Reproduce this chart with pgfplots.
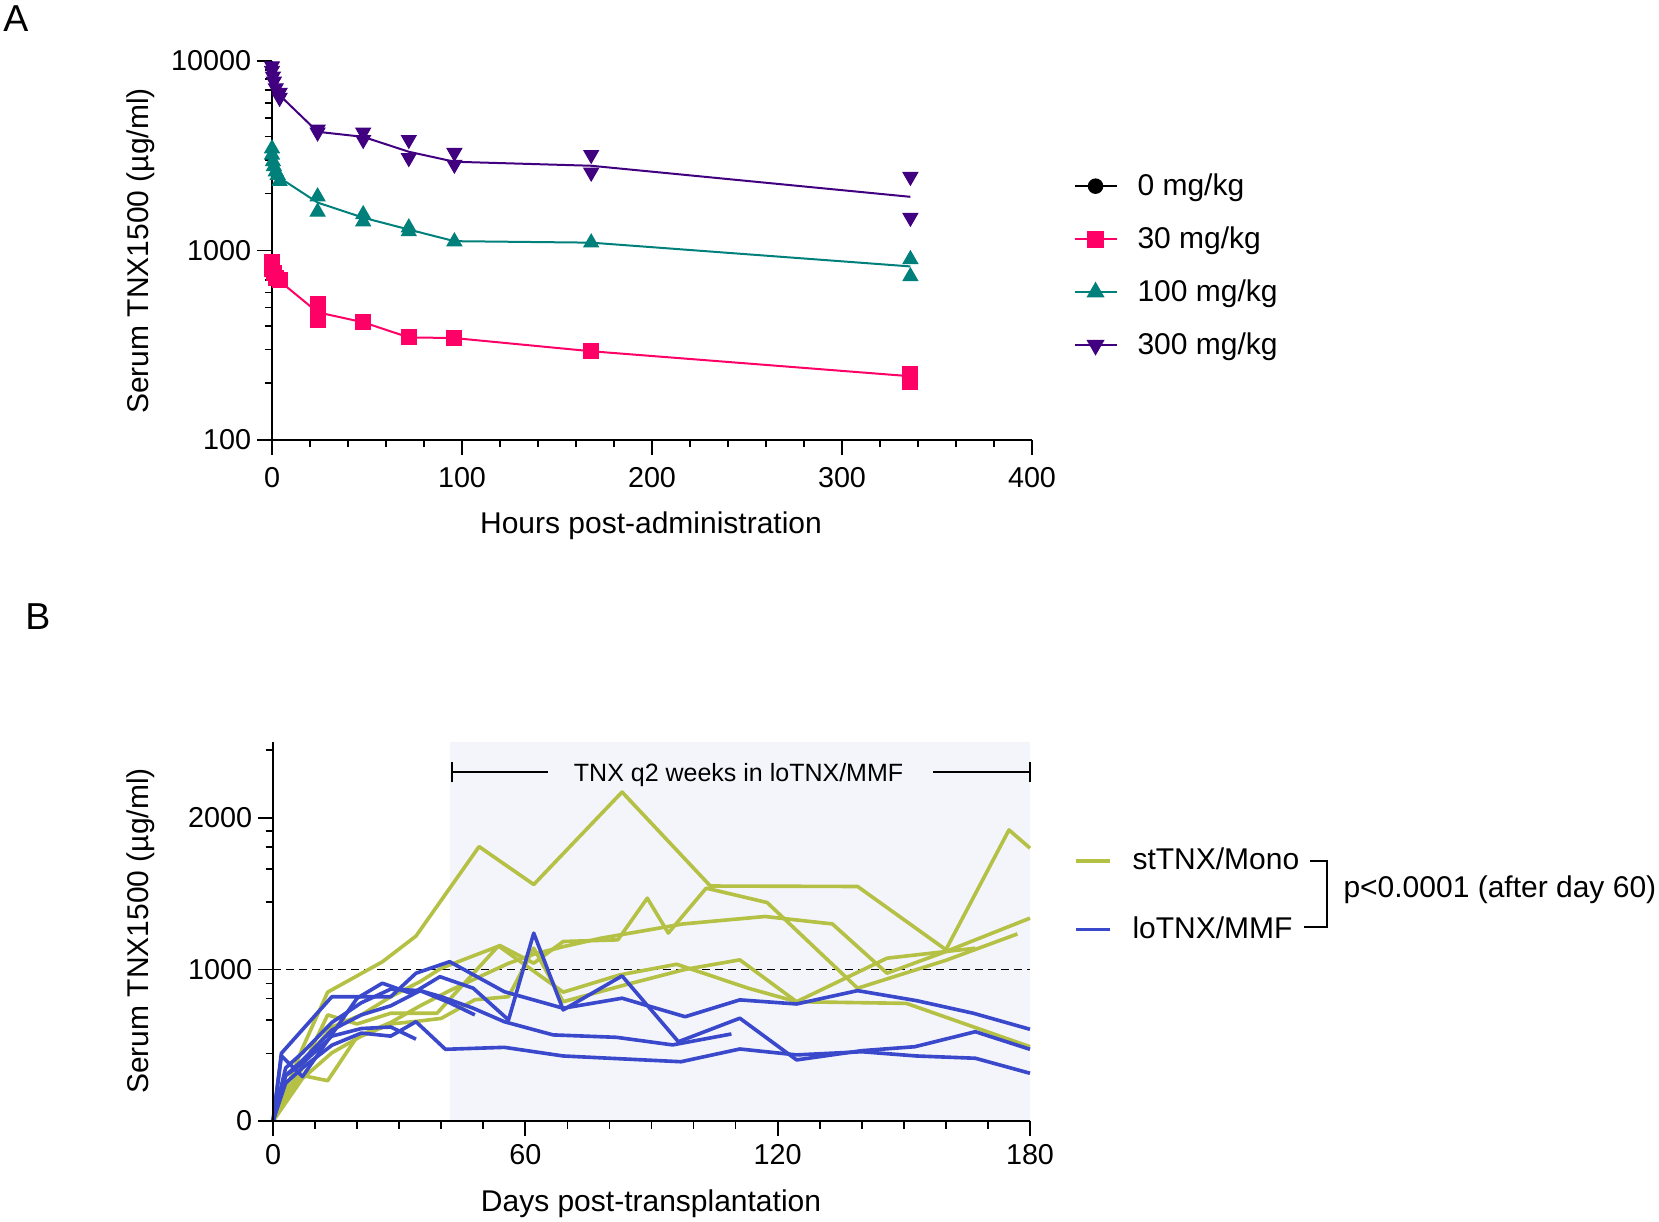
\documentclass[border=0pt]{standalone}
\usepackage{fontspec}
\setmainfont{Liberation Sans}
\usepackage{pgfplots}
\pgfplotsset{compat=1.18}

\definecolor{pinkA}{RGB}{255,0,102}
\definecolor{tealA}{RGB}{0,128,122}
\definecolor{purpA}{RGB}{64,0,128}
\definecolor{greenB}{RGB}{180,193,68}
\definecolor{blueB}{RGB}{58,72,204}
\definecolor{shadeB}{RGB}{244,245,251}

\pgfplotsset{
 gp/.style={
  scale only axis,
  axis on top,
  axis x line*=bottom, axis y line*=left,
  axis line style={line width=0.7pt, -},
  tick align=outside,
  major tick length=6pt, minor tick length=3pt,
  every tick/.style={line width=0.7pt, black},
  tick label style={font=\fontsize{11.5}{13}\selectfont},
  yticklabel style={xshift=1.2pt},
  clip=false,
 },
 gl/.style={line width=1.45pt, line join=round},
}

\begin{document}
\begin{tikzpicture}
\useasboundingbox (0,0) rectangle (663.6pt,488.4pt);

% ---------------- Panel A ----------------
\begin{axis}[gp, at={(108.8pt,312.4pt)}, anchor=south west,
  width=304pt, height=151.6pt,
  xmin=0, xmax=400, ymode=log, ymin=100, ymax=10000,
  xtick={0,100,200,300,400}, xticklabels={0,100,200,300,400},
  xticklabel style={yshift=-1.5pt},
  minor x tick num=4,
  ytick={100,1000,10000}, yticklabels={100,1000,10000},
  legend cell align=left,
  legend image code/.code={\draw[#1, mark repeat=2, mark phase=2] plot coordinates {(0pt,0pt)(8.4pt,0pt)(16.8pt,0pt)};},
  legend style={at={(1.054,0.46)}, anchor=west, draw=none, fill=none,
    inner sep=0pt, font=\fontsize{12}{14}\selectfont, row sep=7pt, column sep=6pt},
]
\addlegendimage{black, line width=0.8pt, mark=*, mark size=2.7pt}
\addlegendentry{0 mg/kg}
\addlegendimage{pinkA, line width=0.8pt, mark=square*, mark size=3pt}
\addlegendentry{30 mg/kg}
\addlegendimage{tealA, line width=0.8pt, mark=triangle*, mark size=3.4pt}
\addlegendentry{100 mg/kg}
\addlegendimage{purpA, line width=0.8pt, mark=triangle*, mark size=3.4pt, mark options={rotate=180}}
\addlegendentry{300 mg/kg}

% mean lines
\addplot[forget plot, pinkA, line width=0.8pt] coordinates {(0,800)(2,740)(4,690)(24,472)(48,418)(72,348)(96,345)(168,294)(336,217)};
\addplot[forget plot, tealA, line width=0.8pt] coordinates {(0,3000)(1,2780)(2,2600)(4,2420)(24,1790)(48,1490)(72,1290)(96,1120)(168,1100)(336,824)};
\addplot[forget plot, purpA, line width=0.8pt] coordinates {(0,8700)(1,7800)(2,7200)(4,6600)(24,4230)(48,3980)(72,3320)(96,2940)(168,2800)(336,1920)};
% individual values
\addplot[forget plot, only marks, mark=square*, mark size=3pt, pinkA] coordinates {
 (0,870)(0,800)(1,760)(2,720)(4,700)
 (24,520)(24,430)(48,418)(72,348)(96,345)(168,294)(336,223)(336,203)};
\addplot[forget plot, only marks, mark=triangle*, mark size=3.4pt, tealA] coordinates {
 (0,3450)(0,3200)(0.5,2950)(1,2780)(2,2610)(3,2500)(4,2320)
 (24,1925)(24,1600)(48,1550)(48,1420)(72,1320)(72,1260)(96,1115)(168,1100)(336,898)(336,730)};
\addplot[forget plot, only marks, mark=triangle*, mark size=3.4pt, purpA, mark options={rotate=180}] coordinates {
 (0,9400)(0,8900)(0.5,8300)(1,7800)(2,7200)(4,6800)(4,6400)
 (24,4350)(24,4200)(48,4200)(48,3840)(72,3840)(72,3080)(96,3280)(96,2840)(168,3200)(168,2580)(336,2450)(336,1490)};
\end{axis}

% ---------------- Panel B ----------------
\begin{axis}[gp, at={(109.2pt,40pt)}, anchor=south west,
  width=302.8pt, height=151.6pt,
  xmin=0, xmax=180, ymin=0, ymax=2500,
  xtick={0,60,120,180}, xticklabels={0,60,120,180}, minor x tick num=5,
  ytick={0,1000,2000}, yticklabels={0,1000,2000},
  minor ytick={445,665,808,907,1447,1661,1806,1914,2449},
  legend cell align=left,
  legend image code/.code={\draw[#1] (0pt,0pt) -- (13.6pt,0pt);},
  legend style={at={(1.058,0.596)}, anchor=west, draw=none, fill=none,
    inner sep=0pt, font=\fontsize{12}{14}\selectfont, row sep=13.2pt, column sep=6.2pt},
]
\addlegendimage{greenB, line width=1.45pt}
\addlegendentry{stTNX/Mono}
\addlegendimage{blueB, line width=1.45pt}
\addlegendentry{loTNX/MMF}

\addplot[forget plot, draw=none, fill=shadeB] coordinates {(42,2500)(180,2500)} \closedcycle;
\addplot[forget plot, black, line width=0.6pt, dash pattern=on 3.2pt off 2pt] coordinates {(0,1000)(180,1000)};

% stTNX/Mono
\addplot[forget plot, gl, greenB] coordinates {(0,0)(7,480)(13,850)(26,1050)(34,1220)(49,1810)(62,1560)(83,2170)(104,1550)(139,1547)(160,1130)(175,1920)(180,1800)};
\addplot[forget plot, gl, greenB] coordinates {(0,0)(7,380)(14,620)(21,700)(28,820)(35,920)(40,1008)(54,1157)(62,1041)(69,1184)(82,1195)(89,1470)(94,1240)(103,1536)(117.5,1441)(139,876)(160,1060)(177,1234)};
\addplot[forget plot, gl, greenB] coordinates {(0,0)(7,300)(13,266)(20,556)(28,650)(35,760)(42,860)(49,950)(56,1040)(62,1100)(69,1150)(78,1206)(97.5,1300)(117,1349)(133,1300)(146,975)(160,1118)(180,1338)};
\addplot[forget plot, gl, greenB] coordinates {(0,0)(7,280)(14,450)(21,560)(28,640)(35,660)(40,677)(48,800)(56,820)(62,1140)(69,787)(84,900)(98,1000)(111,1063)(124.5,787)(146,1074)(160,1118)(167,1140)};
\addplot[forget plot, gl, greenB] coordinates {(0,0)(7,350)(13,700)(20,640)(28,711)(39,711)(53.6,1155)(69,850)(82.5,964)(96,1034)(113,876)(124.5,787)(150.6,776)(180,490)};

% loTNX/MMF
\addplot[forget plot, gl, blueB] coordinates {(0,0)(2,447)(14,820)(28,820)(34,975)(42,1051)(55,853)(69,744)(83,810)(98,688)(111,799)(124.5,772)(139,860)(153,794)(166.5,711)(180,605)};
\addplot[forget plot, gl, blueB] coordinates {(0,0)(2,430)(7,293)(20,810)(26,909)(33,840)(39.7,952)(47.6,876)(56,667)(62,1239)(69,733)(83,957)(96.4,523)(111,678)(124.5,403)(140,464)(152.6,490)(167,589)(180,473)};
\addplot[forget plot, gl, blueB] coordinates {(0,0)(3,250)(7,350)(14,500)(21,580)(28,560)(34,655)(41,473)(55,486)(69,429)(97,391)(111,475)(124.5,436)(140,457)(153,429)(167,414)(180,315)};
\addplot[forget plot, gl, blueB] coordinates {(0,0)(3,300)(7,400)(14,600)(21,700)(28,760)(35,860)(40,820)(47.6,744)(55,655)(66.6,568)(81.7,552)(95,502)(109,574)};
\addplot[forget plot, gl, blueB] coordinates {(0,0)(3,300)(7,380)(14,560)(21,610)(28,620)(34,540)};
\addplot[forget plot, gl, blueB] coordinates {(0,0)(3,350)(7,450)(14,650)(21,780)(28,870)(35,860)(42,780)(48,700)};

% annotation
\draw[line width=0.7pt] (axis cs:42.6,2300) -- (axis cs:65.5,2300);
\draw[line width=0.7pt] ([yshift=-4pt]axis cs:42.6,2300) -- ([yshift=4pt]axis cs:42.6,2300);
\draw[line width=0.7pt] (axis cs:157,2300) -- (axis cs:180,2300);
\draw[line width=0.7pt] ([yshift=-4pt]axis cs:180,2300) -- ([yshift=4pt]axis cs:180,2300);
\node[anchor=base, inner sep=0pt, font=\fontsize{10}{12}\selectfont] at ([yshift=-3.6pt]axis cs:110.7,2300) {TNX q2 weeks in loTNX/MMF};
\end{axis}

% bracket and p-value
\draw[line width=0.7pt] (524pt,144pt) -- (530.8pt,144pt) -- (530.8pt,117.6pt) -- (521.6pt,117.6pt);
\node[anchor=west, inner sep=0pt, font=\fontsize{12}{14}\selectfont] at (537.2pt,132.4pt) {p<0.0001 (after day 60)};

% labels
\node[font=\fontsize{15}{18}\selectfont, inner sep=0pt] at (6.4pt,480.8pt) {A};
\node[font=\fontsize{15}{18}\selectfont, inner sep=0pt] at (15.2pt,241.6pt) {B};
\node[font=\fontsize{12}{14}\selectfont, inner sep=0pt] at (260.4pt,278.3pt) {Hours post-administration};
\node[font=\fontsize{12}{14}\selectfont, inner sep=0pt] at (260.4pt,6.8pt) {Days post-transplantation};
\node[font=\fontsize{12}{14}\selectfont, inner sep=0pt, rotate=90] at (56.4pt,388pt) {Serum TNX1500 (µg/ml)};
\node[font=\fontsize{12}{14}\selectfont, inner sep=0pt, rotate=90] at (56.4pt,116pt) {Serum TNX1500 (µg/ml)};
\end{tikzpicture}
\end{document}
